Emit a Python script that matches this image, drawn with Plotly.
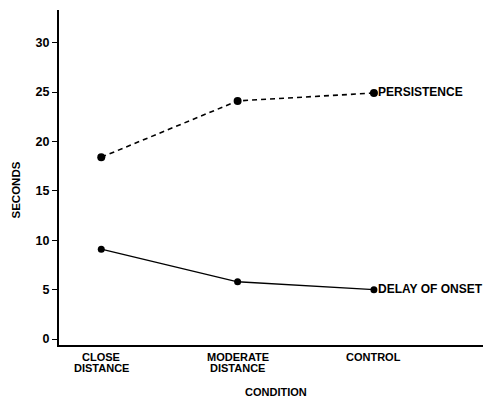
import plotly.graph_objects as go

categories = [["CLOSE", "DISTANCE"], ["MODERATE", "DISTANCE"], ["CONTROL"]]
cat_pos = [0, 1, 2]
persistence = [18.4, 24.1, 24.9]
delay_onset = [9.1, 5.8, 5.0]
y_ticks = [0, 5, 10, 15, 20, 25, 30]
series_labels = ["PERSISTENCE", "DELAY OF ONSET"]
x_title = "CONDITION"
y_title = "SECONDS"

FONT = "Liberation Sans, Arial, sans-serif"
# page body has an 8px default margin, so the figure is 8px smaller
W, H = 487, 394
L, R, T, B = 51, 12, 2, 57

fig = go.Figure()
fig.add_trace(go.Scatter(
    x=cat_pos, y=persistence, mode="lines+markers",
    line=dict(color="black", width=1.6, dash="5px,4px"),
    marker=dict(color="black", size=8), showlegend=False))
fig.add_trace(go.Scatter(
    x=cat_pos, y=delay_onset, mode="lines+markers",
    line=dict(color="black", width=1.3),
    marker=dict(color="black", size=7), showlegend=False))

for vals, lab in zip([persistence, delay_onset], series_labels):
    fig.add_annotation(x=cat_pos[-1], y=vals[-1], text=lab, showarrow=False,
                       xanchor="left", xshift=2, yshift=1,
                       font=dict(family=FONT, size=12, color="black", weight="bold"))

# category labels (two tight lines each)
for pos, lines in zip(cat_pos, categories):
    for i, line in enumerate(lines):
        fig.add_annotation(x=pos, xref="x", y=0, yref="paper", text=line,
                           showarrow=False, xanchor="center", yanchor="top",
                           yshift=-4 - 10.5 * i,
                           font=dict(family=FONT, size=11, color="black", weight="bold"))

fig.add_annotation(x=0.5, xref="paper", y=0, yref="paper", text=x_title,
                   showarrow=False, xanchor="center", yanchor="middle", yshift=-47,
                   xshift=5, font=dict(family=FONT, size=11, color="black", weight="bold"))
fig.add_annotation(x=0, xref="paper", y=0.5, yref="paper", text=y_title,
                   showarrow=False, xanchor="center", yanchor="middle", xshift=-44,
                   yshift=-13, textangle=-90,
                   font=dict(family=FONT, size=11.5, color="black", weight="bold"))

fig.update_layout(
    width=W, height=H,
    margin=dict(l=L, r=R, t=T, b=B, autoexpand=False),
    paper_bgcolor="white", plot_bgcolor="white",
    font=dict(family=FONT, color="black"),
    xaxis=dict(range=[-0.31, 2.8], tickvals=cat_pos, showticklabels=False,
               showgrid=False, zeroline=False, showline=True, linecolor="black",
               linewidth=2, ticks="", automargin=False),
    yaxis=dict(range=[-0.6, 33.3], tickvals=y_ticks,
               showgrid=False, zeroline=False, showline=True, linecolor="black",
               linewidth=2, ticks="outside", ticklen=5, tickwidth=1.2, tickcolor="black",
               tickfont=dict(size=12.5, weight="bold"), automargin=False),
)

fig.write_html("out.html")
